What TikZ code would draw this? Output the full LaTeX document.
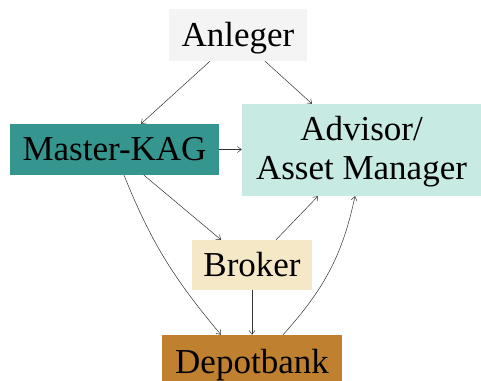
\documentclass[tikz,border=0pt]{standalone}
\usepackage{fontspec}
\setmainfont{Liberation Serif}
\usetikzlibrary{arrows.meta}
\definecolor{anlegerfill}{RGB}{244,244,244}
\definecolor{kagfill}{RGB}{53,150,143}
\definecolor{advfill}{RGB}{199,234,227}
\definecolor{brokerfill}{RGB}{245,232,198}
\definecolor{depotfill}{RGB}{191,129,47}
\tikzset{
  box/.style={rectangle, inner sep=0pt, font=\fontsize{35}{40}\selectfont, align=center},
  flow/.style={draw=black!80, line width=0.5pt, -{Straight Barb[length=4pt,width=6pt]}}
}
% lower a label inside its box without changing the box size
\newcommand{\lowered}[2]{\raisebox{-#1}[\height][\depth]{#2}}
\begin{document}
\begin{tikzpicture}[x=1pt,y=1pt]
  \clip (0,0) rectangle (481,380);
  \fill[white] (0,0) rectangle (481,380);

  % boxes
  \node[box, fill=anlegerfill, minimum width=138pt, minimum height=52pt] (anl) at (238,345) {\lowered{3pt}{Anleger}};
  \node[box, fill=kagfill, minimum width=209pt, minimum height=51pt] (mkag) at (114.5,230.5) {Master-KAG};
  \node[box, fill=advfill, minimum width=239pt, minimum height=92pt] (adv) at (361.5,230) {\lowered{2pt}{Advisor/}\\\lowered{1pt}{Asset Manager}};
  \node[box, fill=brokerfill, minimum width=120pt, minimum height=50pt] (brk) at (252,115) {Broker};
  \node[box, fill=depotfill, minimum width=180pt, minimum height=60pt] (dep) at (252,15) {Depotbank};

  % connectors
  \draw[flow] ([xshift=-28pt]anl.south) -- ([xshift=26.5pt]mkag.north);
  \draw[flow] ([xshift=27pt]anl.south) -- ([xshift=-49.5pt]adv.north);
  \draw[flow] (mkag.east) -- (mkag.east -| adv.west);
  \draw[flow] ([xshift=29.5pt]mkag.south) -- ([xshift=-31pt]brk.north);
  \draw[flow] ([xshift=9.5pt]mkag.south) to[out=-68, in=130] ([xshift=-31pt]dep.north);
  \draw[flow] ([xshift=24pt]brk.north) -- ([xshift=-43.5pt]adv.south);
  \draw[flow] (brk.south) -- (dep.north);
  \draw[flow] ([xshift=31pt]dep.north) to[out=48, in=-102] ([xshift=-6.5pt]adv.south);
\end{tikzpicture}
\end{document}
